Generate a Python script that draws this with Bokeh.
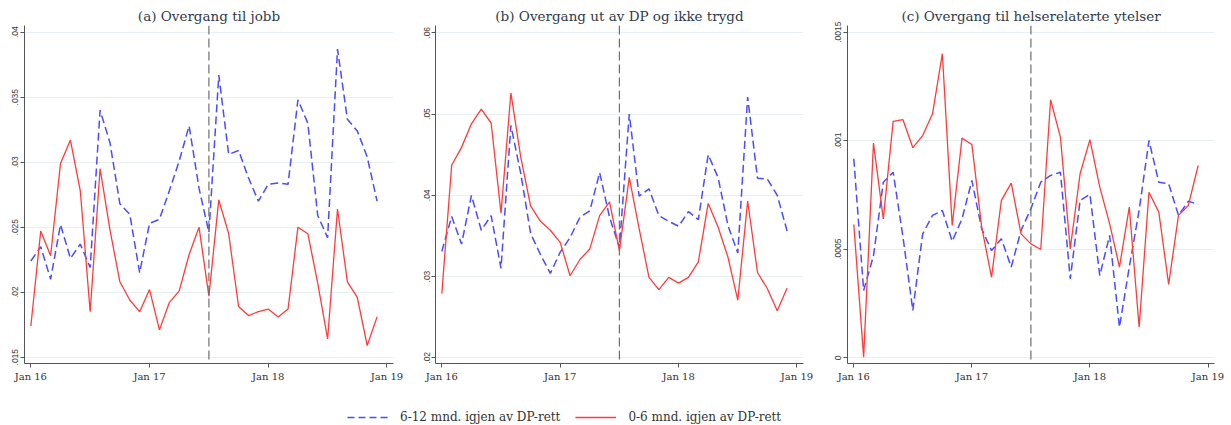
from bokeh.plotting import figure
from bokeh.layouts import column, row
from bokeh.models import Range1d, FixedTicker, Span, Legend, LegendItem
from bokeh.embed import file_html
from bokeh.resources import INLINE

# ---------------- data ----------------
months = list(range(36))  # Jan 2016 .. Dec 2018
x_ticks = [0, 12, 24, 36]
x_tick_labels = ["Jan 16", "Jan 17", "Jan 18", "Jan 19"]
cutoff_month = 18  # Jul 2017

series_names = ["6-12 mnd. igjen av DP-rett", "0-6 mnd. igjen av DP-rett"]

title_a = "(a) Overgang til jobb"
title_b = "(b) Overgang ut av DP og ikke trygd"
title_c = "(c) Overgang til helserelaterte ytelser"

a_blue = [.0224, .0235, .0210, .0252, .0226, .0237, .0219, .0340, .0315, .0268, .0260, .0215,
          .0253, .0256, .0278, .0301, .0328, .0280, .0246, .0367, .0306, .0309, .0288, .0270,
          .0283, .0284, .0283, .0348, .0330, .0259, .0242, .0387, .0333, .0324, .0304, .0270]
a_red = [.0174, .0247, .0228, .0299, .0317, .0278, .0185, .0295, .0248, .0208, .0194, .0185,
         .0202, .0171, .0192, .0201, .0229, .0250, .0197, .0271, .0245, .0189, .0182, .0185,
         .0187, .0181, .0187, .0250, .0245, .0207, .0164, .0264, .0208, .0196, .0159, .0181]

b_blue = [.0331, .0374, .0340, .0400, .0357, .0375, .0310, .0486, .0427, .0353, .0327, .0304,
          .0330, .0348, .0373, .0381, .0428, .0373, .0336, .0500, .0399, .0408, .0375, .0368,
          .0362, .0380, .0370, .0450, .0422, .0363, .0329, .0521, .0421, .0420, .0400, .0356]
b_red = [.0279, .0437, .0459, .0488, .0506, .0489, .0378, .0526, .0447, .0387, .0368, .0357,
         .0342, .0301, .0321, .0334, .0375, .0392, .0332, .0422, .0359, .0299, .0284, .0299,
         .0292, .0299, .0318, .0390, .0361, .0324, .0271, .0393, .0305, .0285, .0258, .0286]

c_blue = [.000917, .000310, .000470, .000809, .000855, .000556, .000218, .000571, .000656, .000679, .000537, .000640,
          .000817, .000594, .000494, .000548, .000418, .000587, .000687, .000809, .000840, .000855, .000364, .000725,
          .000753, .000379, .000564, .000141, .000418, .000680, .001001, .000809, .000802, .000656, .000722, .000706]
c_red = [.000614, .000003, .000989, .000640, .001089, .001097, .000968, .001024, .001124, .001401, .000610, .001012,
         .000983, .000602, .000371, .000725, .000805, .000571, .000525, .000499, .001189, .001017, .000502, .000848,
         .001005, .000786, .000618, .000418, .000694, .000141, .000763, .000671, .000338, .000656, .000702, .000886]

a_yticks = [.015, .02, .025, .03, .035, .04]
a_ylabels = [".015", ".02", ".025", ".03", ".035", ".04"]
b_yticks = [.02, .03, .04, .05, .06]
b_ylabels = [".02", ".03", ".04", ".05", ".06"]
c_yticks = [0, .0005, .001, .0015]
c_ylabels = ["0", ".0005", ".001", ".0015"]

# ---------------- style ----------------
BLUE = "#4b4bff"
RED = "#ff3b3b"
SERIF = "DejaVu Serif"
SANS = "Liberation Sans"


def panel(title, blue, red, yticks, ylabels, yr, fw, mbl, mbr):
    p = figure(frame_width=fw, frame_height=338, output_backend="svg",
               toolbar_location=None, x_range=Range1d(-0.64, 36.66),
               y_range=Range1d(*yr), min_border_left=mbl, min_border_right=mbr,
               min_border_top=25, min_border_bottom=23, title=title)
    p.title.text_font = SERIF
    p.title.text_font_size = "13.5px"
    p.title.text_font_style = "normal"
    p.title.text_color = "#2f3a4a"
    p.title.align = "center"
    p.title.standoff = 3
    p.outline_line_color = None
    p.background_fill_color = "white"
    p.border_fill_color = "white"

    p.xgrid.grid_line_color = None
    p.ygrid.grid_line_color = "#e6eff1"
    p.ygrid.grid_line_width = 1
    p.ygrid.ticker = FixedTicker(ticks=yticks)

    xa = p.xaxis[0]
    xa.ticker = FixedTicker(ticks=x_ticks)
    xa.major_label_overrides = {t: l for t, l in zip(x_ticks, x_tick_labels)}
    xa.major_label_text_font = SERIF
    xa.major_label_text_font_size = "10px"
    xa.major_label_text_color = "#333333"
    xa.major_label_standoff = 3
    ya = p.yaxis[0]
    ya.ticker = FixedTicker(ticks=yticks)
    ya.major_label_overrides = {t: l for t, l in zip(yticks, ylabels)}
    ya.major_label_orientation = "vertical"
    ya.major_label_text_font = SANS
    ya.major_label_text_font_size = "8.5px"
    ya.major_label_text_color = "#3a3a3a"
    ya.major_label_standoff = 2
    for ax in (xa, ya):
        ax.axis_line_color = "#555555"
        ax.axis_line_width = 1
        ax.major_tick_line_color = "#555555"
        ax.major_tick_out = 4
        ax.major_tick_in = 0
        ax.minor_tick_line_color = None

    p.add_layout(Span(location=cutoff_month, dimension="height",
                      line_color="#6e6e6e", line_width=1.2, line_dash="9 4"))
    p.line(months, blue, line_color=BLUE, line_width=1.5, line_dash="8 4")
    p.line(months, red, line_color=RED, line_width=1.3)
    return p


pa = panel(title_a, a_blue, a_red, a_yticks, a_ylabels, (0.014515, 0.040515), 369, 24, 25)
pb = panel(title_b, b_blue, b_red, b_yticks, b_ylabels, (0.0193, 0.0609), 368, 17, 27)
pc = panel(title_c, c_blue, c_red, c_yticks, c_ylabels, (-0.0000263, 0.001531), 367, 17, 17)

# legend strip
leg = figure(width=1231, height=39, output_backend="svg", toolbar_location=None,
             x_range=Range1d(0, 1), y_range=Range1d(0, 1),
             x_axis_location=None, y_axis_location=None,
             min_border_left=0, min_border_right=0, min_border_top=0, min_border_bottom=0)
leg.outline_line_color = None
leg.grid.visible = False
lb = leg.line(x=[-5, -4], y=[-5, -5], line_color=BLUE, line_width=1.5, line_dash="7 4")
lr = leg.line(x=[-5, -4], y=[-5, -5], line_color=RED, line_width=1.5)
legend = Legend(items=[LegendItem(label=series_names[0], renderers=[lb]),
                       LegendItem(label=series_names[1], renderers=[lr])],
                orientation="horizontal", location=(347, 1),
                glyph_width=41, glyph_height=14, label_height=14,
                label_standoff=12, spacing=15, padding=0, margin=0,
                border_line_color=None, background_fill_alpha=0,
                label_text_font=SERIF, label_text_font_size="12px",
                label_text_color="#333333")
leg.add_layout(legend)

layout = column(row(pa, pb, pc), leg)
open("out.html", "w").write(file_html(layout, INLINE))
